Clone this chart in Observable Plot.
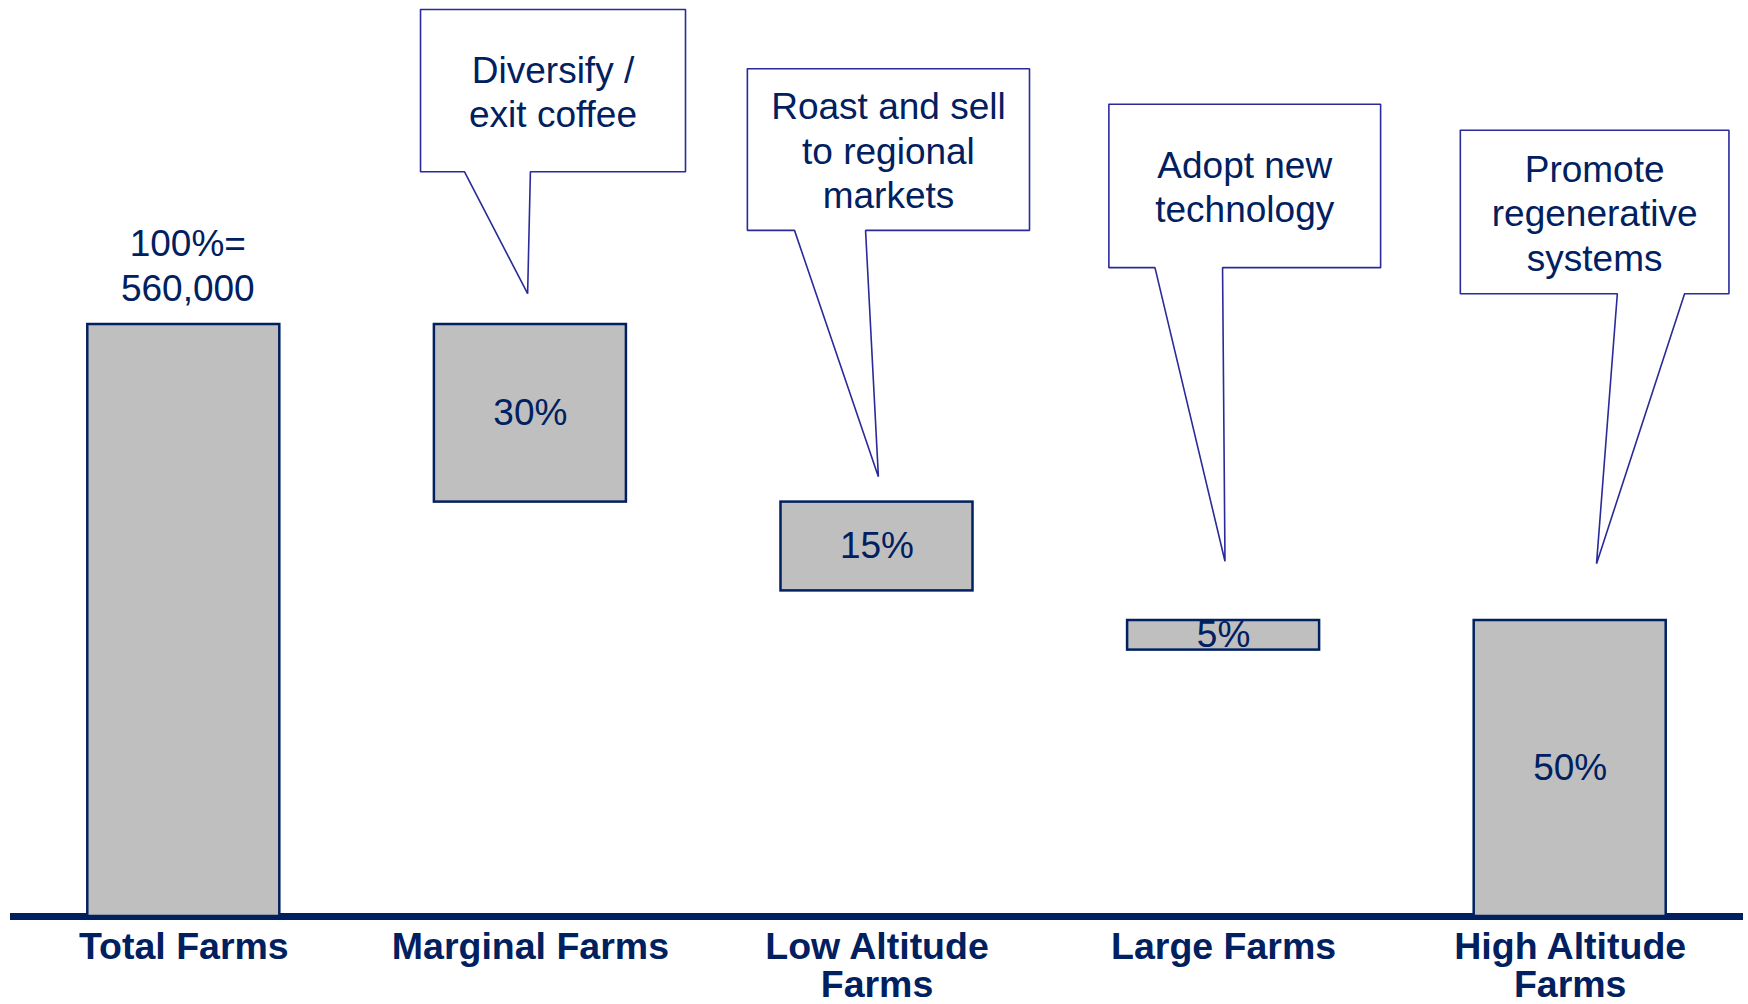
<!DOCTYPE html>
<html>
<head>
<meta charset="utf-8">
<script src="https://cdn.jsdelivr.net/npm/d3@7"></script>
<script src="https://cdn.jsdelivr.net/npm/@observablehq/plot@0.6"></script>
<style>
  html, body { margin: 0; padding: 0; background: #ffffff; }
  #chart svg { display: block; }
</style>
</head>
<body>
<div id="chart"></div>
<script>
// ---- Data ----
const categories = ["Total Farms", "Marginal Farms", "Low Altitude Farms", "Large Farms", "High Altitude Farms"];
const axisLabels = ["Total Farms", "Marginal Farms", "Low Altitude\nFarms", "Large Farms", "High Altitude\nFarms"];
const shares = [100, 30, 15, 5, 50];          // % of farms
const bases = [0, 70, 55, 45, 0];             // where each bar starts (as drawn)
const valueLabels = ["", "30%", "15%", "5%", "50%"];
const totalLabel = "100%=\n560,000";
const calloutTexts = [
  "Diversify /\nexit coffee",
  "Roast and sell\nto regional\nmarkets",
  "Adopt new\ntechnology",
  "Promote\nregenerative\nsystems"
];
const calloutCategory = [1, 2, 3, 4];

// ---- Layout (annotation geometry in scale units, relative to category index) ----
const halfBar = 0.277;
const calloutLayout = [
  {left: -0.317, right: 0.4475, top: 153.2, bottom: 125.8, base1: -0.190, base2: 0.000, tipX: -0.008, tipY: 105.2},
  {left: -0.374, right: 0.440,  top: 143.2, bottom: 115.9, base1: -0.238, base2: -0.033, tipX: 0.004, tipY: 74.3},
  {left: -0.331, right: 0.453,  top: 137.2, bottom: 109.6, base1: -0.198, base2: -0.003, tipX: 0.004, tipY: 60.0},
  {left: -0.317, right: 0.458,  top: 132.8, bottom: 105.2, base1: 0.136,  base2: 0.330, tipX: 0.076, tipY: 59.6}
];

const navy = "#002060";
const calloutStroke = "#2a2a9a";

const rows = categories.map((c, i) => ({i, category: c, base: bases[i], value: shares[i], label: valueLabels[i]}));

const calloutPoints = [];
const calloutLabels = [];
calloutTexts.forEach((t, k) => {
  const c = calloutCategory[k], L = calloutLayout[k];
  const pts = [
    [L.left, L.top], [L.right, L.top], [L.right, L.bottom], [L.base2, L.bottom],
    [L.tipX, L.tipY], [L.base1, L.bottom], [L.left, L.bottom], [L.left, L.top]
  ];
  pts.forEach(([dx, y]) => calloutPoints.push({id: k, x: c + dx, y}));
  calloutLabels.push({x: c + (L.left + L.right) / 2, y: (L.top + L.bottom) / 2, text: t});
});

const chart = Plot.plot({
  width: 1748,
  height: 1004,
  marginTop: 324,
  marginBottom: 88,
  marginLeft: 10,
  marginRight: 5,
  x: {type: "linear", domain: [-0.5, 4.5], axis: null},
  y: {domain: [0, 100], axis: null},
  style: {fontFamily: "'Liberation Sans', Arial, sans-serif", background: "#ffffff", color: navy, overflow: "visible"},
  marks: [
    Plot.ruleY([0], {stroke: navy, strokeWidth: 7}),
    Plot.rect(rows, {
      x1: d => d.i - halfBar, x2: d => d.i + halfBar,
      y1: "base", y2: d => d.base + d.value,
      fill: "#bfbfbf", stroke: navy, strokeWidth: 2.5
    }),
    Plot.text(rows.filter(d => d.label), {
      x: "i", y: d => d.base + d.value / 2, text: "label",
      fontSize: 37, fill: navy
    }),
    Plot.text([rows[0]], {
      x: "i", y: d => d.base + d.value, text: () => totalLabel,
      lineAnchor: "bottom", lineHeight: 1.2, dy: -24, dx: 4,
      fontSize: 37, fill: navy
    }),
    Plot.text(rows, {
      x: "i", y: 0, text: d => axisLabels[d.i],
      lineAnchor: "top", lineHeight: 1.02, dy: 15,
      fontSize: 37.5, fontWeight: "bold", fill: navy
    }),
    Plot.line(calloutPoints, {
      x: "x", y: "y", z: "id",
      fill: "#ffffff", stroke: calloutStroke, strokeWidth: 1.6, strokeLinejoin: "miter"
    }),
    Plot.text(calloutLabels, {
      x: "x", y: "y", text: "text",
      lineAnchor: "middle", lineHeight: 1.2,
      fontSize: 37, fill: navy
    })
  ]
});
document.getElementById("chart").appendChild(chart);
</script>
</body>
</html>
